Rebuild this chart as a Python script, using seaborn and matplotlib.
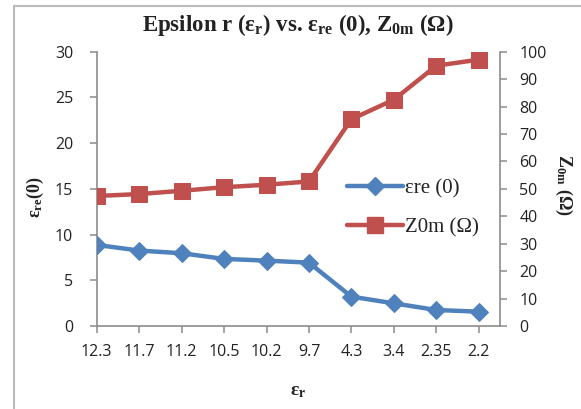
import matplotlib
matplotlib.use("Agg")
import matplotlib.pyplot as plt
import seaborn as sns
import pandas as pd
from matplotlib.lines import Line2D

categories = ["12.3", "11.7", "11.2", "10.5", "10.2", "9.7", "4.3", "3.4", "2.35", "2.2"]
eps_re = [8.87, 8.25, 7.96, 7.34, 7.15, 6.93, 3.21, 2.48, 1.75, 1.57]
z0m = [47.4, 48.1, 49.3, 50.6, 51.5, 52.7, 75.4, 82.5, 94.9, 97.1]
left_ticks = [0, 5, 10, 15, 20, 25, 30]
right_ticks = [0, 10, 20, 30, 40, 50, 60, 70, 80, 90, 100]

sns.set_theme(style="white")
plt.rcParams["font.family"] = ["Open Sans", "DejaVu Sans"]
plt.rcParams["mathtext.fontset"] = "custom"
plt.rcParams["mathtext.rm"] = "Liberation Serif:bold"
plt.rcParams["mathtext.it"] = "Liberation Serif:bold"
plt.rcParams["mathtext.bf"] = "Liberation Serif:bold"

BLUE = "#4F81BD"
RED = "#C0504D"
GRAY = "#8c8c8c"
TXT = "#222222"

df = pd.DataFrame({"pos": range(len(categories)), "eps_re": eps_re, "z0m": z0m})

fig = plt.figure(figsize=(5.81, 4.09), dpi=100)
ax = fig.add_axes([0.1664, 0.2029, 0.8606 - 0.1664, 0.8736 - 0.2029])
ax2 = ax.twinx()

sns.lineplot(data=df, x="pos", y="eps_re", ax=ax, color=BLUE, lw=3.2,
             marker="D", markersize=9, markeredgecolor=BLUE, zorder=3)
sns.lineplot(data=df, x="pos", y="z0m", ax=ax2, color=RED, lw=3.2,
             marker="s", markersize=11, markeredgecolor=RED, zorder=3)

ax.set_xlim(0, 9.5)
ax.set_ylim(0, 30)
ax2.set_ylim(0, 100)
ax.set_xticks(range(len(categories)))
ax.set_xticklabels(categories)
ax.set_yticks(left_ticks)
ax2.set_yticks(right_ticks)

for a in (ax, ax2):
    for s in a.spines.values():
        s.set_visible(False)
ax.spines["left"].set_visible(True)
ax.spines["bottom"].set_visible(True)
ax2.spines["right"].set_visible(True)
for s in (ax.spines["left"], ax.spines["bottom"], ax2.spines["right"]):
    s.set_color(GRAY)
    s.set_linewidth(1.2)

ax.tick_params(axis="x", direction="out", length=5, width=1.1, color=GRAY,
               labelsize=11.5, labelcolor=TXT, pad=8, bottom=True)
ax.tick_params(axis="y", direction="out", length=5, width=1.1, color=GRAY,
               labelsize=11.5, labelcolor=TXT, pad=12, left=True)
ax2.tick_params(axis="y", direction="out", length=5, width=1.1, color=GRAY,
                labelsize=11.5, labelcolor=TXT, pad=9, right=True)
ax.grid(False)
ax2.grid(False)

ax.set_xlabel(r"$\mathrm{\epsilon_r}$", fontsize=14, color=TXT, labelpad=16)
ax.set_ylabel(r"$\mathrm{\epsilon_{re}(0)}$", fontsize=13, color=TXT)
ax2.set_ylabel(r"$\mathrm{Z_{0m}\ (\Omega)}$", fontsize=13, color=TXT,
               rotation=270, labelpad=22)
ax.yaxis.set_label_coords(-0.125, 0.47)
ax2.yaxis.set_label_coords(1.185, 0.515)

fig.text(0.513, 0.938,
         r"Epsilon r (ε$_\mathrm{r}$) vs. ε$_\mathrm{re}$ (0), Z$_\mathrm{0m}$ (Ω)",
         ha="center", va="center", fontsize=16.5, color=TXT,
         family="Liberation Serif", weight="bold")

handles = [
    Line2D([], [], color=BLUE, lw=3.2, marker="D", markersize=9),
    Line2D([], [], color=RED, lw=3.2, marker="s", markersize=11),
]
leg = ax.legend(handles, ["εre (0)", "Z0m (Ω)"], loc="center left",
                bbox_to_anchor=(0.6, 0.43), frameon=False, handlelength=2.7,
                handletextpad=0.1, labelspacing=0.9, borderaxespad=0,
                prop={"family": "Liberation Serif", "size": 15})
for t in leg.get_texts():
    t.set_color(TXT)

fig.add_artist(Line2D([14 / 581, 14 / 581], [0, 1 - 6 / 409],
                      transform=fig.transFigure, color="#bbbbbb", lw=1.5))
fig.add_artist(Line2D([14 / 581, 1], [1 - 6 / 409, 1 - 6 / 409],
                      transform=fig.transFigure, color="#bbbbbb", lw=1.5))

fig.savefig("out.png", dpi=100)
